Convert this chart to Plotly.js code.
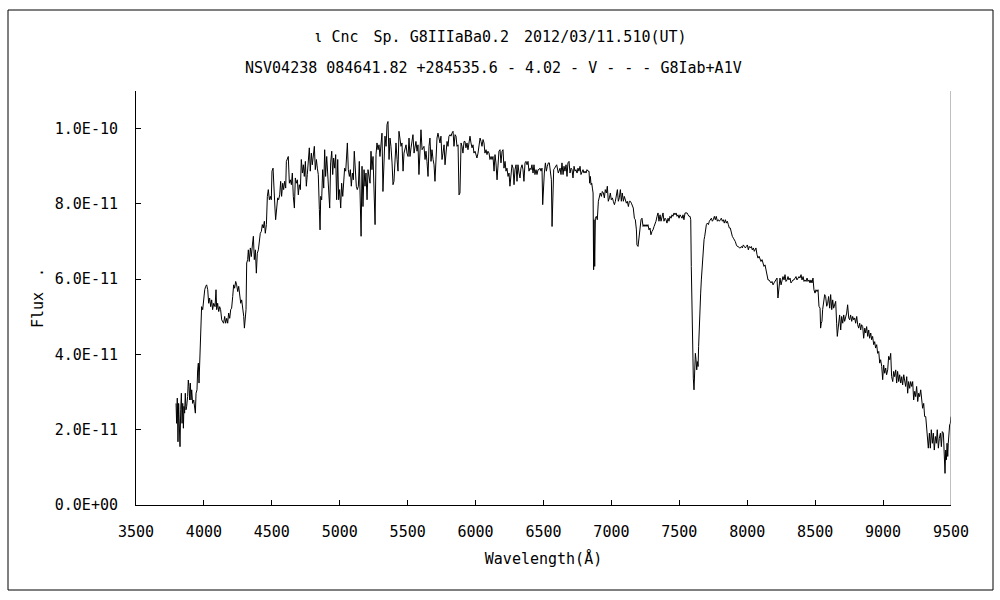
<!DOCTYPE html>
<html>
<head>
<meta charset="utf-8">
<script src="https://cdn.plot.ly/plotly-3.0.1.min.js"></script>
<style>
html,body{margin:0;padding:0;background:#ffffff;}
#chart{width:1000px;height:600px;}
</style>
</head>
<body>
<div id="chart"></div>
<script>
// ---- text ----
const titleLine1 = "ι Cnc\u3000Sp. G8IIIaBa0.2\u30002012/03/11.510(UT)";
const titleLine2 = "NSV04238 084641.82 +284535.6 - 4.02 - V - - - G8Iab+A1V";
const xTitle = "Wavelength(Å)";
const yTitle = "Flux\u3000.";
const yTickVals = [0, 2e-11, 4e-11, 6e-11, 8e-11, 1e-10];
const yTickLabels = ["0.0E+00", "2.0E-11", "4.0E-11", "6.0E-11", "8.0E-11", "1.0E-10"];

// ---- data: wavelength (Angstrom) ----
const wavelength = [
3795,3799,3804,3809,3814,3819,3824,3829,3834,3839,
3844,3849,3853,3858,3863,3868,3873,3880,3885,3890,
3895,3900,3905,3910,3917,3925,3932,3937,3942,3949,
3954,3959,3964,3969,3974,3979,3983,3991,3998,4006,
4013,4020,4028,4035,4042,4050,4057,4064,4072,4082,
4089,4094,4101,4109,4116,4123,4131,4138,4145,4153,
4160,4168,4175,4182,4190,4197,4204,4212,4219,4226,
4234,4241,4249,4256,4263,4271,4278,4285,4293,4298,
4303,4310,4315,4322,4327,4334,4342,4349,4357,4364,
4371,4379,4386,4393,4401,4408,4415,4423,4430,4437,
4445,4452,4460,4467,4474,4482,4489,4496,4501,4509,
4516,4523,4528,4536,4543,4550,4558,4565,4572,4580,
4587,4594,4602,4607,4614,4621,4629,4636,4644,4651,
4658,4666,4673,4680,4688,4695,4702,4710,4717,4725,
4732,4739,4747,4754,4761,4769,4776,4783,4791,4798,
4806,4813,4820,4828,4835,4842,4850,4855,4860,4867,
4874,4882,4889,4896,4904,4911,4918,4926,4933,4941,
4948,4955,4963,4970,4977,4985,4992,4999,5007,5014,
5022,5029,5036,5044,5051,5056,5063,5071,5078,5085,
5093,5100,5107,5115,5122,5129,5137,5144,
5157,5164,5171,5179,5186,5193,5201,5208,5215,5223,
5230,5237,5245,5252,5260,5267,5274,5282,5289,5296,
5304,5311,5318,5326,5333,5341,5348,5355,5363,5370,
5377,5385,5392,5399,5407,5414,5422,5429,5436,5444,
5451,5458,5466,5473,5480,5488,5495,5503,5510,5517,
5525,5532,5539,5547,5554,5561,5569,5576,5583,5591,
5598,5606,5613,5620,5628,5635,5642,5650,5657,5664,
5672,5679,5687,5694,5701,5709,5716,5723,5731,5738,
5745,5753,5760,5768,5775,5782,5790,5797,5804,5812,
5819,5826,5834,5841,5849,5856,5863,5871,5878,5885,
5893,5900,5907,5915,5922,5929,5937,5944,5952,5959,
5966,5974,5981,5988,5996,6003,6010,6018,6025,6033,
6040,6047,6055,6062,6069,6077,6084,6091,6099,6106,
6114,6121,6128,6136,6143,6150,6158,6165,6172,6180,
6187,6195,6202,6209,6217,6224,6231,6239,6246,6253,
6261,6268,6276,6283,6290,6298,6305,6312,6320,6327,
6334,6342,6349,6356,6364,6371,6379,6386,6393,6401,
6408,6415,6423,6430,6437,6445,6452,6460,6467,6474,
6482,6489,6494,6499,6506,6514,6521,6528,6536,6543,
6550,6558,6563,6568,6575,6582,
6597,6609,6622,6629,6636,6644,6651,6658,6666,6673,
6680,6688,6695,6703,6710,6717,6725,6732,6739,6747,
6754,6761,6769,6776,6784,6791,6798,6806,6813,6820,
6828,6835,6840,6845,6850,6855,6860,6865,6869,6872,
6877,6882,6889,6896,6904,6911,6918,6926,6933,6941,
6948,6955,6963,6970,6977,6985,6992,6999,7007,7014,
7022,7029,7036,7044,7051,7058,7066,7073,7080,7088,
7095,7102,7110,7117,7125,7132,7139,7147,7154,7161,
7169,7176,7184,7188,7196,7203,7210,7218,7225,7233,
7240,7247,7255,7262,7269,7277,7284,7291,7299,7306,
7314,7321,7328,7336,7343,7350,7358,7365,7372,7380,
7387,7395,7402,7409,7417,7424,7431,7439,7446,7453,
7461,7468,7476,7483,7490,7498,7505,7512,7520,7527,
7534,7542,7549,7557,7564,7571,7579,7584,7588,7593,
7598,7603,7608,7613,7618,7623,7628,7633,7638,7642,
7647,7652,7657,7662,7667,7672,7677,7682,7687,7692,
7699,7706,7714,7721,7728,7736,7743,7750,7758,7765,
7772,7780,7787,7795,7802,7809,7817,7824,7831,7839,
7846,7853,7861,7868,7875,7883,7890,7898,7905,7912,
7920,7927,7934,7942,7949,7957,7964,7971,7979,7986,
7993,8001,8008,8015,8023,8030,8037,8045,8052,
8064,8072,8079,8087,8094,8101,8109,8116,8123,8131,
8138,8145,8153,8160,8168,8175,8182,8190,8197,8204,
8212,8219,8226,8234,8241,8249,8256,8263,8271,8278,
8285,8293,8300,8307,8315,8322,8330,8337,8344,8352,
8359,8366,8374,8381,8388,8396,8403,8411,8418,8425,
8433,8440,8447,8455,8462,8469,8477,8484,8491,8499,
8506,8514,8521,8528,8536,8540,8545,8550,8555,8563,
8570,8577,8585,8592,8599,8607,8614,8622,8629,8636,
8644,8651,8658,8663,8668,8673,8680,8688,8695,8703,
8710,8717,8725,8732,8739,8747,8754,8761,8769,8776,
8784,8791,8798,8806,8813,8820,8828,8835,8842,8850,
8857,8865,8872,8879,8887,8894,8901,8909,8916,8923,
8931,8938,8945,8953,8960,8968,8975,8982,8990,8997,
9004,9012,9019,9026,9034,9041,9049,9056,9063,9071,
9078,9085,9093,9100,9107,9115,9122,9130,9137,9144,
9152,9159,9166,9174,9181,9188,9196,9203,9211,9218,
9225,9233,9240,9247,9255,9262,9269,9277,9284,9291,
9299,9306,9314,9321,9328,9333,9341,9348,9355,9363,
9370,9377,9385,9392,9399,9407,9414,9422,9429,9436,
9444,9451,9456,9461,9466,9471,9476,9480,9485,9490,
9495,9500
];

// ---- data: flux in units of 1E-11 ----
const fluxE11 = [
2.70,2.17,2.84,1.68,2.70,1.99,1.55,2.53,2.97,2.17,
2.70,2.04,2.62,2.44,2.97,2.53,2.62,2.88,3.32,3.15,
2.79,3.24,2.79,3.06,2.70,2.79,2.62,2.44,2.97,3.06,
3.59,3.77,3.24,3.95,4.03,5.01,5.27,5.19,5.54,5.72,
5.81,5.85,5.72,5.36,5.50,5.27,5.45,5.19,5.36,5.27,
5.72,5.19,5.36,5.14,5.27,5.19,4.92,4.88,4.83,5.01,
4.83,4.96,4.83,5.10,4.96,5.19,5.23,5.54,5.85,5.76,
5.94,5.85,5.67,5.81,5.54,5.36,5.45,5.27,5.01,4.70,
4.96,5.19,6.43,6.52,6.78,6.47,6.83,6.60,6.91,7.14,
6.52,6.78,6.16,6.69,6.78,6.96,7.22,7.27,7.45,7.36,
7.54,7.22,7.45,8.20,8.38,8.11,8.20,8.11,8.87,8.95,
8.20,7.89,7.58,8.02,8.16,8.11,8.24,8.60,8.20,8.55,
8.38,8.60,8.42,9.13,9.18,9.26,8.55,8.64,8.51,8.82,
8.20,7.89,8.69,8.55,8.64,8.24,8.51,8.38,9.18,8.82,
9.04,8.73,9.13,8.47,8.78,9.18,9.49,8.87,9.35,9.04,
9.26,9.53,8.91,9.18,8.95,8.78,7.85,7.31,8.20,8.11,
8.91,8.42,9.44,8.73,9.26,8.82,8.20,7.89,9.09,9.40,
8.78,9.22,8.95,9.31,8.11,9.18,8.11,8.38,7.89,8.55,
8.20,8.64,8.95,8.87,9.26,9.62,8.91,8.73,8.91,8.47,
8.82,8.64,9.40,8.73,8.47,8.38,8.47,9.13,
7.14,9.00,7.93,8.91,8.47,8.82,8.11,8.91,8.78,8.55,
9.40,8.91,9.26,8.29,7.45,9.31,9.62,9.44,9.57,9.26,
9.53,9.88,8.33,9.53,9.80,9.53,10.11,10.19,9.18,9.75,
9.53,9.09,8.51,8.60,9.35,9.62,9.18,8.87,9.93,9.66,
9.53,9.62,8.87,9.35,9.49,9.57,9.35,9.26,9.75,9.26,
9.49,9.62,9.84,9.35,9.53,9.66,9.40,9.57,8.78,9.44,
9.97,9.44,9.49,9.53,9.18,9.40,9.13,8.73,9.53,9.75,
9.13,9.44,9.18,9.04,8.60,9.44,9.75,9.88,9.71,9.62,
9.80,9.18,9.35,9.57,9.04,9.35,9.66,9.53,9.80,9.84,
9.80,9.88,9.93,9.53,9.84,9.80,9.53,9.57,8.24,8.29,
9.62,9.53,9.35,9.66,9.66,9.49,9.62,9.44,9.62,9.80,
9.62,9.49,9.57,9.35,9.40,9.26,9.22,9.35,9.53,9.75,
9.66,9.53,9.71,9.62,9.35,9.44,9.31,9.40,9.35,9.18,
9.26,9.18,9.26,8.87,9.31,9.09,8.64,9.09,9.40,9.44,
9.09,9.40,9.44,8.95,9.13,8.87,8.95,8.73,8.82,8.47,
8.91,9.04,8.95,8.51,8.91,9.04,8.60,9.04,8.82,8.69,
8.95,9.04,8.91,8.60,9.09,9.13,9.04,9.13,8.87,8.95,
8.91,9.04,8.82,9.04,8.78,8.91,8.78,8.91,8.91,8.95,
8.87,8.95,7.98,8.38,8.82,9.09,8.87,9.00,9.09,9.09,
8.78,8.64,7.40,8.38,8.91,8.95,
9.04,8.82,8.95,8.78,9.09,8.78,9.00,8.87,9.04,8.73,
9.09,9.13,8.82,8.95,8.91,8.69,9.00,8.87,8.91,8.82,
8.95,8.87,9.00,8.78,8.87,8.91,8.82,8.87,8.82,8.91,
8.87,8.87,8.55,8.73,8.51,8.55,8.42,8.29,6.25,7.58,
6.34,7.62,7.67,7.58,8.07,8.20,8.29,8.20,8.33,8.29,
8.16,8.38,8.29,8.47,8.07,8.16,8.29,8.11,8.16,8.07,
7.98,8.07,8.29,8.38,8.07,8.16,8.38,8.07,8.29,8.07,
8.20,8.11,8.02,8.07,7.93,8.07,8.07,8.02,7.93,7.89,
7.62,7.58,7.31,6.91,6.87,7.14,7.40,7.58,7.62,7.40,
7.45,7.40,7.45,7.40,7.45,7.31,7.36,7.18,7.27,7.31,
7.40,7.45,7.54,7.67,7.76,7.54,7.71,7.54,7.62,7.76,
7.54,7.62,7.58,7.49,7.62,7.54,7.67,7.62,7.71,7.67,
7.76,7.71,7.76,7.67,7.71,7.62,7.71,7.67,7.62,7.71,
7.58,7.76,7.76,7.76,7.71,7.67,7.67,7.58,6.34,5.27,
3.59,3.37,3.06,3.50,4.03,3.86,3.59,3.81,3.68,4.21,
4.83,4.88,5.63,5.98,6.34,6.60,6.69,7.05,7.14,7.31,
7.45,7.49,7.45,7.54,7.58,7.62,7.54,7.58,7.67,7.58,
7.67,7.54,7.58,7.54,7.58,7.62,7.54,7.58,7.49,7.58,
7.49,7.54,7.45,7.36,7.36,7.18,7.14,7.09,7.05,7.00,
6.91,6.87,6.87,6.83,6.83,6.87,6.83,6.91,6.87,6.83,
6.87,6.91,6.78,6.87,6.83,6.87,6.78,6.83,6.74,
6.83,6.65,6.56,6.61,6.52,6.47,6.52,6.43,6.34,6.38,
6.21,6.16,5.98,5.98,5.94,5.90,5.94,5.85,5.90,5.94,
5.98,6.03,5.50,5.94,6.03,5.85,6.03,6.07,5.98,6.12,
5.94,5.98,6.07,5.98,6.03,5.90,5.94,5.98,5.98,6.03,
6.07,5.98,6.03,6.07,6.03,6.12,5.98,6.07,5.94,5.98,
5.94,6.03,5.94,5.98,5.90,5.98,5.90,6.03,5.72,5.63,
5.72,5.67,5.72,5.28,5.23,4.70,4.83,4.88,5.19,5.45,
5.59,5.54,5.28,5.36,5.54,5.23,5.59,5.19,5.45,5.23,
5.36,5.41,4.83,4.48,4.65,4.83,5.05,4.65,5.01,4.83,
5.05,4.88,4.97,5.10,5.32,4.97,4.92,5.05,4.88,5.01,
4.92,4.97,4.83,5.01,4.79,4.70,4.83,4.65,4.79,4.74,
4.43,4.70,4.57,4.74,4.48,4.65,4.43,4.57,4.39,4.48,
4.26,4.34,4.17,4.26,4.03,4.08,3.77,3.86,3.68,3.33,
3.72,3.50,3.64,3.46,3.59,3.95,3.86,4.03,3.41,3.28,
3.55,3.41,3.59,3.24,3.55,3.28,3.46,3.24,3.41,3.19,
3.46,3.33,3.15,3.41,2.97,3.28,3.10,3.28,3.15,3.28,
2.79,3.02,2.88,3.15,2.75,2.97,2.88,3.06,2.70,2.57,
2.70,2.35,2.35,2.00,1.82,1.51,1.91,1.51,2.00,1.64,
1.91,1.46,1.82,1.64,2.00,1.51,1.77,1.91,1.55,1.95,
1.91,1.11,0.84,1.46,1.20,1.64,1.29,1.64,2.08,2.13,
2.17,2.35
];
const FLUX_UNIT = 1e-11;
const flux = fluxE11.map(v => v * FLUX_UNIT);

const FONT = "'DejaVu Sans Mono', 'Noto Sans CJK JP', monospace";

const trace = {
  type: 'scatter',
  mode: 'lines',
  x: wavelength,
  y: flux,
  line: {color: '#000000', width: 1},
  hoverinfo: 'skip',
  showlegend: false
};

const layout = {
  width: 1000,
  height: 600,
  margin: {l: 136, r: 49, t: 91, b: 95},
  paper_bgcolor: '#ffffff',
  plot_bgcolor: '#ffffff',
  font: {family: FONT, size: 15, color: '#000000'},
  title: {
    text: titleLine1,
    x: 0.5, xref: 'container', xanchor: 'center',
    y: 1 - 37 / 600, yref: 'container', yanchor: 'middle',
    font: {family: FONT, size: 15, color: '#000000'}
  },
  annotations: [{
    text: titleLine2,
    xref: 'paper', yref: 'paper',
    x: (493 - 136) / 815, y: (505 - 68) / 414,
    xanchor: 'center', yanchor: 'middle',
    showarrow: false,
    font: {family: FONT, size: 15, color: '#000000'}
  }],
  xaxis: {
    range: [3500, 9500],
    tick0: 3500, dtick: 500,
    ticks: 'inside', ticklen: 5, tickwidth: 1, tickcolor: '#000000',
    showline: true, linecolor: '#000000', linewidth: 1,
    showgrid: false, zeroline: false,
    ticklabelstandoff: 13,
    tickfont: {family: FONT, size: 15, color: '#000000'},
    title: {text: xTitle, standoff: 13, font: {family: FONT, size: 15, color: '#000000'}},
    automargin: false,
    fixedrange: true
  },
  yaxis: {
    range: [0, 1.1e-10],
    tickmode: 'array',
    tickvals: yTickVals,
    ticktext: yTickLabels,
    ticks: 'inside', ticklen: 5, tickwidth: 1, tickcolor: '#000000',
    showline: true, linecolor: '#000000', linewidth: 1,
    showgrid: false, zeroline: false,
    ticklabelstandoff: 14,
    tickfont: {family: FONT, size: 15, color: '#000000'},
    title: {text: yTitle, standoff: 7, font: {family: FONT, size: 15, color: '#000000'}},
    automargin: false,
    fixedrange: true
  },
  shapes: [
    {
      type: 'line', xref: 'x', yref: 'paper',
      x0: 9500, x1: 9500, y0: 0, y1: 1,
      line: {color: '#808080', width: 1}
    },
    {
      type: 'rect', xref: 'paper', yref: 'paper',
      x0: (8 - 136) / 815, x1: (993 - 136) / 815,
      y0: (505 - 590) / 414, y1: (505 - 10) / 414,
      line: {color: '#000000', width: 1},
      fillcolor: 'rgba(0,0,0,0)',
      layer: 'below'
    }
  ]
};

Plotly.newPlot('chart', [trace], layout, {staticPlot: true, displayModeBar: false});
</script>
</body>
</html>
